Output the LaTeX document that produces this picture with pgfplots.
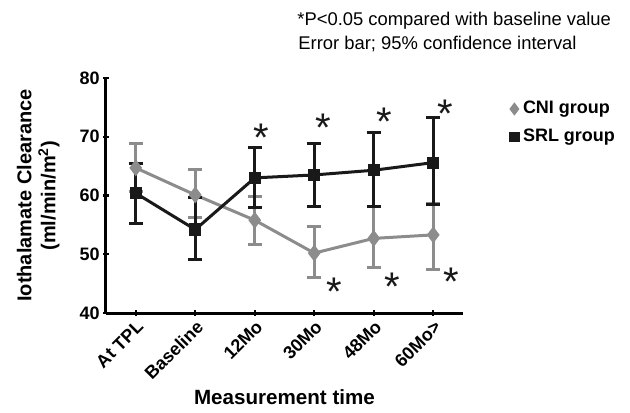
\documentclass[border=0pt]{standalone}
\usepackage{fontspec}
\setmainfont{Liberation Sans}
\usepackage{pgfplots}
\pgfplotsset{compat=1.18}
\definecolor{cnigray}{RGB}{140,140,140}
\definecolor{srlblack}{RGB}{25,25,25}

\tikzset{star/.style={anchor=north, inner sep=0pt, font=\fontsize{20}{20}\selectfont, text=srlblack}}

\begin{document}
\begin{tikzpicture}
\useasboundingbox (-53pt,-49.5pt) rectangle (262pt,156.5pt);
\begin{axis}[
    at={(0,0)}, anchor=south west,
    scale only axis,
    width=178.5pt, height=117.5pt,
    xmin=-0.5, xmax=5.5,
    ymin=40, ymax=80,
    axis lines=left,
    axis line style={line width=1.5pt, -},
    xtick={0,1,2,3,4,5},
    xticklabels={At TPL, Baseline, 12Mo, 30Mo, 48Mo, 60Mo>},
    ytick={40,50,60,70,80},
    tick pos=left,
    major tick length=3pt,
    tick style={line width=1.2pt, black},
    /pgf/number format/assume math mode=true,
    ticklabel style={font=\bfseries\fontsize{9}{10}\selectfont},
    x tick label style={rotate=45, anchor=north east, inner sep=1pt},
    y tick label style={inner sep=1.5pt},
    xlabel={Measurement time},
    xlabel style={at={(axis description cs:0.5,-0.36)}, anchor=center,
        font=\bfseries\fontsize{10.3}{11}\selectfont},
    ylabel={Iothalamate Clearance\\(ml/min/m\textsuperscript{2})},
    ylabel style={at={(axis description cs:-0.19,0.5)}, anchor=center, align=center,
        font=\bfseries\fontsize{10}{12}\selectfont},
    clip=false,
    legend style={draw=none, fill=none, at={(axis description cs:1.13,0.92)}, anchor=north west,
        font=\bfseries\fontsize{9}{10}\selectfont, row sep=2pt, inner sep=0pt},
    legend cell align=left,
]
\addlegendimage{only marks, mark=diamond*, cnigray, mark size=3pt}
\addlegendentry{CNI group}
\addlegendimage{only marks, mark=square*, srlblack, mark size=2.3pt}
\addlegendentry{SRL group}

% CNI group
\addplot[cnigray, line width=1.5pt, mark=diamond*, mark size=3pt, forget plot,
    error bars/.cd, y dir=both, y explicit,
    error bar style={line width=1.5pt, cnigray},
    error mark options={rotate=90, mark size=3.5pt, line width=1.5pt, cnigray}]
coordinates {
    (0,64.7) += (0,4.1) -= (0,4.1)
    (1,60.1) += (0,4.4) -= (0,3.9)
    (2,55.8) += (0,4.1) -= (0,4.1)
    (3,50.2) += (0,4.5) -= (0,4.1)
    (4,52.7) += (0,5.4) -= (0,4.9)
    (5,53.3) += (0,5.4) -= (0,5.9)
};

% SRL group
\addplot[srlblack, line width=1.5pt, mark=square*, mark size=2.3pt, forget plot,
    error bars/.cd, y dir=both, y explicit,
    error bar style={line width=1.5pt, srlblack},
    error mark options={rotate=90, mark size=3.5pt, line width=1.5pt, srlblack}]
coordinates {
    (0,60.4) += (0,5.1) -= (0,5.1)
    (1,54.2) += (0,5.5) -= (0,5.1)
    (2,63.0) += (0,5.1) -= (0,5.1)
    (3,63.5) += (0,5.4) -= (0,5.3)
    (4,64.3) += (0,6.5) -= (0,6.2)
    (5,65.6) += (0,7.6) -= (0,7.2)
};

% significance marks
\node[star] at (axis cs:2.11,72.2) {*};
\node[star] at (axis cs:3.16,74.0) {*};
\node[star] at (axis cs:4.17,74.9) {*};
\node[star] at (axis cs:5.2,76.4) {*};
\node[star] at (axis cs:3.34,46.0) {*};
\node[star] at (axis cs:4.31,46.8) {*};
\node[star] at (axis cs:5.3,47.8) {*};
\end{axis}
\node[anchor=base west, inner sep=0pt, font=\fontsize{9.2}{10}\selectfont] at (95.5pt,143.5pt)
    {*P<0.05 compared with baseline value};
\node[anchor=base west, inner sep=0pt, font=\fontsize{9.2}{10}\selectfont] at (96pt,131.5pt)
    {Error bar; 95\% confidence interval};
\end{tikzpicture}
\end{document}
